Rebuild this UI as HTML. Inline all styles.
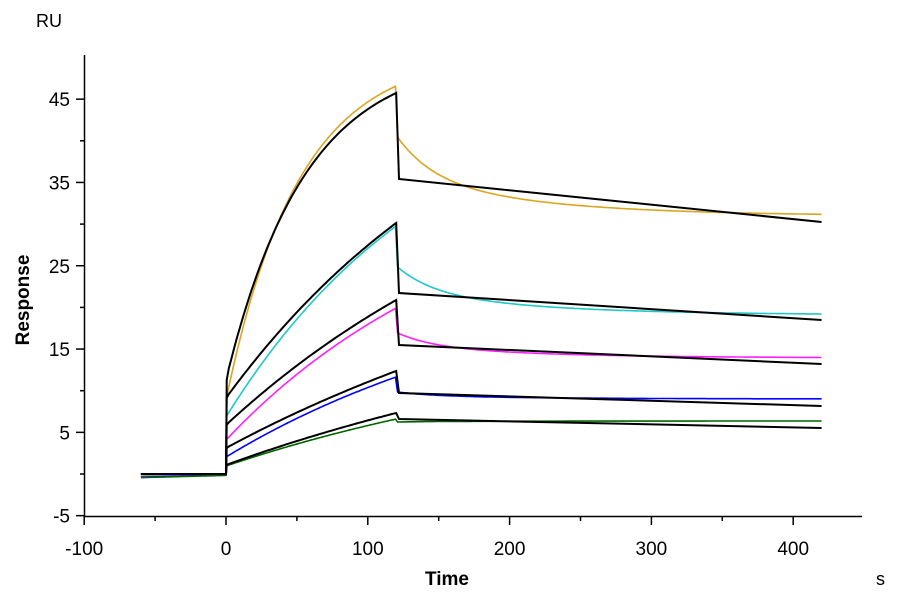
<!DOCTYPE html>
<html><head><meta charset="utf-8"><style>
body{margin:0;background:#fff}
svg text{font-family:"Liberation Sans",Arial,sans-serif;fill:#000}
</style></head><body>
<svg id="s" width="900" height="600" viewBox="0 0 900 600" xmlns="http://www.w3.org/2000/svg">
<text x="36" y="27" font-size="18">RU</text>
<text x="29" y="300" font-size="19" font-weight="bold" text-anchor="middle" transform="rotate(-90 29 300)">Response</text>
<text x="447" y="585" font-size="19" font-weight="bold" text-anchor="middle">Time</text>
<text x="876" y="585" font-size="18">s</text>
<g id="ax" stroke="#000" stroke-width="1.5" fill="none"></g>
<g id="lbl" font-size="19"></g>
<g id="data" fill="none" stroke-width="1.6"></g>
</svg>
<script>
var ns="http://www.w3.org/2000/svg";
function el(p,t,a,tx){var e=document.createElementNS(ns,t);for(var k in a)e.setAttribute(k,a[k]);if(tx!=null)e.textContent=tx;document.getElementById(p).appendChild(e);}
var X=function(t){return 226+1.418*t;};
var Y=function(v){return 474-8.33*v;};
el("ax","path",{d:"M84.5 55V516.5H862"});
for(var v=-5;v<=45;v+=5){var y=Y(v);var maj=((v+5)%10==0);el("ax","path",{d:"M84.5 "+y+"H"+(maj?76:80)});if(maj)el("lbl","text",{x:70,y:y+7,"text-anchor":"end"},v);}
for(var t=-100;t<=440;t+=50){var x=X(t);var maj=(t%100==0);el("ax","path",{d:"M"+x+" 516.5V"+(maj?525:521)});if(maj)el("lbl","text",{x:x,y:555,"text-anchor":"middle"},t);}
// [color, yb0,yb120,kb, ybDrop, ybEnd, yc0,yc120,kc, ycDrop, ycEnd]
var S=[
["#DAA520",380,93,0.018,179,222,400,86,0.0195,137,216],
["#20C8C8",398,223,0.005,293,320,417,226,0.0065,267,315],
["#FF20FF",425,300,0.004,345,364,440,308,0.0055,333,358],
["#0000FF",448,371,0.003,393,406,457,377,0.0045,392,399],
["#006400",465,413,0.003,419,428,466,419,0.0035,422,421]];
function assoc(y0,y1,k,t){return y0+(y1-y0)*(1-Math.exp(-k*t))/(1-Math.exp(-120*k));}
S.forEach(function(s,i){
 var d="M"+X(-60)+" "+(476+i*0.4);
 for(var t=-58;t<=0;t+=2)d+="L"+X(t)+" "+(476+i*0.4-(t+60)/60*2.2);
 for(var t=0.5;t<=120;t+=1)d+="L"+X(t).toFixed(1)+" "+assoc(s[6],s[7],s[8],t).toFixed(1);
 d+="L"+X(121)+" "+s[9];
 for(var t=122;t<=420;t+=2){var f=0.5*Math.exp(-(t-121)/25)+0.5*Math.exp(-(t-121)/95);d+="L"+X(t).toFixed(1)+" "+(s[10]+(s[9]-s[10])*f).toFixed(1);}
 el("data","path",{d:d,stroke:s[0]});
});
S.forEach(function(s){
 var d="M"+X(-60)+" 474L"+X(0)+" 474L"+X(0.5)+" "+s[1];
 for(var t=2;t<=120;t+=2)d+="L"+X(t).toFixed(1)+" "+assoc(s[1],s[2],s[3],t).toFixed(1);
 d+="L"+X(122)+" "+s[4]+"L"+X(420)+" "+s[5];
 el("data","path",{d:d,stroke:"#000","stroke-width":2});
});
</script>
</body></html>
